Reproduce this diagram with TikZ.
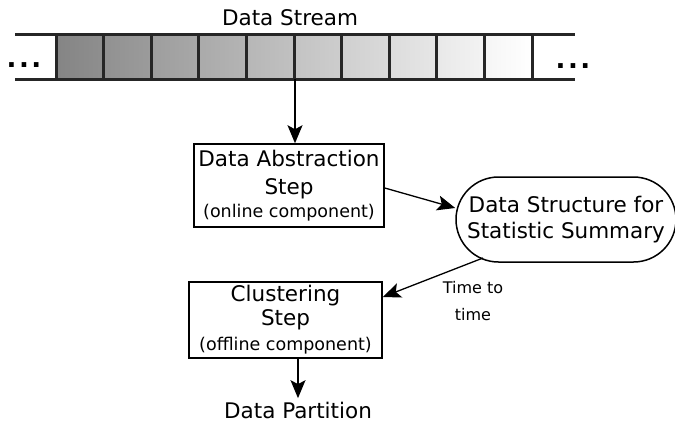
\documentclass[tikz,border=0pt]{standalone}
\usepackage{fontspec}
\setmainfont{DejaVu Sans}
\usetikzlibrary{arrows.meta,shapes.misc}
\tikzset{
    stepbox/.style={draw,line width=1.5pt,inner sep=0pt,align=center,font=\fontsize{21.5}{28}\selectfont},
    summary/.style={draw,line width=1.5pt,rounded rectangle,inner sep=0pt,align=center,font=\fontsize{21.5}{26}\selectfont},
    flow/.style={line width=1.3pt,-{Stealth[length=18pt,width=15pt,inset=4pt]}},
    cell/.style={line width=3pt,draw=black!85},
    more/.style={font=\fontsize{26}{26}\selectfont\bfseries}
}

\begin{document}
\begin{tikzpicture}[x=1pt,y=-1pt]
        \useasboundingbox (0,0) rectangle (675,426);
        \def\w{47.6}
        % stream of cells
        \foreach \i in {0,...,9} {
            \pgfmathsetmacro{\lc}{48-4.9*\i}
            \pgfmathsetmacro{\rc}{max(0,44-4.9*\i)}
            \draw [cell,left color=black!\lc,right color=black!\rc]
                ({56+\w*\i},34) rectangle +(\w,45);
        }
        \draw [cell] (15,34) -- (56,34) (15,79) -- (56,79);
        \draw [cell] (532,34) -- (575,34) (532,79) -- (575,79);
        \node [more] (ldots) at (24,65) {.\hspace{2.5pt}.\hspace{2.5pt}.};
        \node [more] (rdots) at (573,66) {.\hspace{2.5pt}.\hspace{2.5pt}.};
        \node (stream) at (290,18) {\fontsize{21.5}{24}\selectfont Data Stream};
        \coordinate (tap) at (295,79);
        % steps
        \node [stepbox,minimum width=190pt,minimum height=83pt] (abstr) at (289,185.5)
            {Data Abstraction\\Step\\[-5pt]{\fontsize{17.5}{20}\selectfont (online component)}};
        \node [summary,minimum width=220pt,minimum height=85pt] (summ) at (566,219.5)
            {Data Structure for\\Statistic Summary};
        \node [stepbox,minimum width=193pt,minimum height=76pt] (clust) at (285.5,320)
            {Clustering\\[-4pt]Step\\[-3pt]{\fontsize{17.5}{20}\selectfont (offline component)}};
        \node (part) at (298,410) {\fontsize{21.5}{24}\selectfont Data Partition};
        \node [align=center,font=\fontsize{16}{27}\selectfont] (when) at (473,301) {Time to\\time};
        % arrows
        \draw [flow] (tap) -- (abstr.north -| tap);
        \draw [flow] (abstr.east |- 0,188) -- (summ.west |- 0,208);
        \draw [flow] (483,258) -- (clust.east |- 0,297);
        \draw [flow] (clust.south -| part) -- (part.north);
    \end{tikzpicture}
\end{document}
